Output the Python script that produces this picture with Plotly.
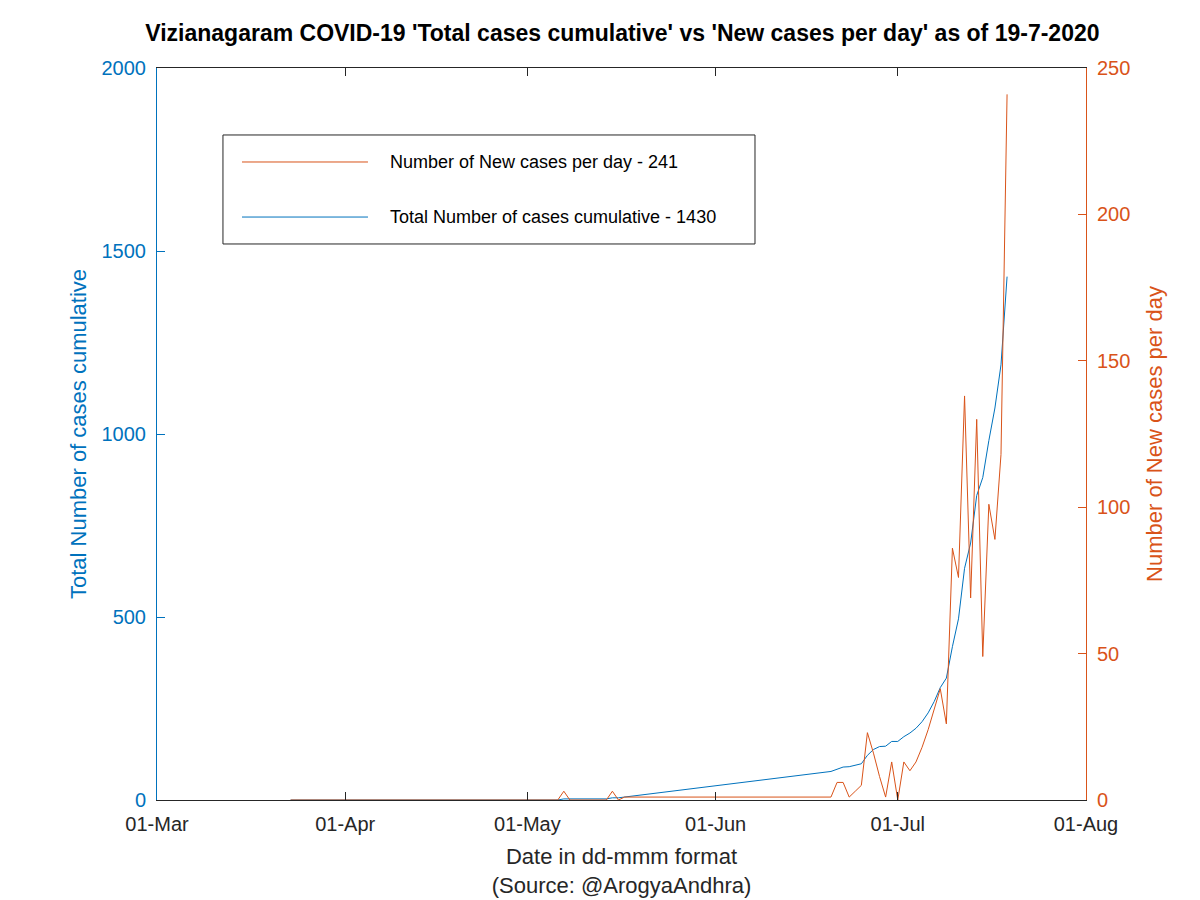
import plotly.graph_objects as go

# ---- data ----
new_dates = ["2020-03-23", "2020-05-06", "2020-05-07", "2020-05-08", "2020-05-14",
             "2020-05-15", "2020-05-16", "2020-05-17", "2020-06-20", "2020-06-21",
             "2020-06-22", "2020-06-23", "2020-06-24", "2020-06-25", "2020-06-26",
             "2020-06-27", "2020-06-28", "2020-06-29", "2020-06-30", "2020-07-01",
             "2020-07-02", "2020-07-03", "2020-07-04", "2020-07-05", "2020-07-06",
             "2020-07-07", "2020-07-08", "2020-07-09", "2020-07-10", "2020-07-11",
             "2020-07-12", "2020-07-13", "2020-07-14", "2020-07-15", "2020-07-16",
             "2020-07-17", "2020-07-18", "2020-07-19"]
new_cases = [0, 0, 3, 0, 0,
             3, 0, 1, 1, 6,
             6, 1, 3, 5, 23,
             16, 8, 1, 13, 0,
             13, 10, 13, 18, 24,
             31, 38, 26, 86, 76,
             138, 69, 130, 49, 101,
             89, 118, 241]

cum_dates = ["2020-03-23", "2020-05-06", "2020-05-07", "2020-05-14", "2020-05-15",
             "2020-05-16", "2020-06-20", "2020-06-21", "2020-06-22", "2020-06-23",
             "2020-06-24", "2020-06-25", "2020-06-26", "2020-06-27", "2020-06-28",
             "2020-06-29", "2020-06-30", "2020-07-01", "2020-07-02", "2020-07-03",
             "2020-07-04", "2020-07-05", "2020-07-06", "2020-07-07", "2020-07-08",
             "2020-07-09", "2020-07-10", "2020-07-11", "2020-07-12", "2020-07-13",
             "2020-07-14", "2020-07-15", "2020-07-16", "2020-07-17", "2020-07-18",
             "2020-07-19"]
cum_cases = [0, 0, 3, 3, 6,
             6, 78, 84, 90, 91,
             94, 99, 122, 138, 146,
             147, 160, 160, 173, 183,
             196, 214, 238, 269, 307,
             333, 419, 495, 633, 702,
             832, 881, 982, 1071, 1189,
             1430]

x_range = ["2020-03-01", "2020-08-01"]
x_ticks = ["2020-03-01", "2020-04-01", "2020-05-01", "2020-06-01", "2020-07-01", "2020-08-01"]
x_tick_text = ["01-Mar", "01-Apr", "01-May", "01-Jun", "01-Jul", "01-Aug"]

title_text = "Vizianagaram COVID-19 'Total cases cumulative' vs 'New cases per day' as of 19-7-2020"
new_label = "Number of New cases per day - 241"
cum_label = "Total Number of cases cumulative - 1430"

BLUE = "#0072BD"
ORANGE = "#D95319"
DARK = "#262626"
FONT = "Liberation Sans, Arial, sans-serif"

fig = go.Figure()
fig.add_trace(go.Scatter(x=cum_dates, y=cum_cases, mode="lines", name=cum_label,
                         line=dict(color=BLUE, width=1), yaxis="y", showlegend=False))
fig.add_trace(go.Scatter(x=new_dates, y=new_cases, mode="lines", name=new_label,
                         line=dict(color=ORANGE, width=1), yaxis="y2", showlegend=False))

# manual legend (MATLAB style box)
lx0, lx1, ly0, ly1 = 0.0710, 0.6437, 0.7596, 0.9085
fig.add_shape(type="rect", xref="paper", yref="paper", x0=lx0, x1=lx1, y0=ly0, y1=ly1,
              line=dict(color=DARK, width=1), fillcolor="white", layer="above")
for yy, col, txt in [(0.8716, ORANGE, new_label), (0.7964, BLUE, cum_label)]:
    fig.add_shape(type="line", xref="paper", yref="paper", x0=0.0915, x1=0.2271,
                  y0=yy, y1=yy, line=dict(color=col, width=1), layer="above")
    fig.add_annotation(xref="paper", yref="paper", x=0.2487, y=yy, text=txt,
                       showarrow=False, xanchor="left", yanchor="middle",
                       font=dict(family=FONT, size=18, color="black"))

fig.update_layout(
    width=1200, height=900,
    margin=dict(l=149, r=122, t=60, b=108),
    paper_bgcolor="white", plot_bgcolor="white",
    font=dict(family=FONT, size=20, color=DARK),
    title=dict(text="<b>" + title_text + "</b>", x=0.512, xanchor="center",
               y=0.972, yanchor="middle", font=dict(family=FONT, size=23, color="black")),
    xaxis=dict(type="date", range=x_range, tickvals=x_ticks, ticktext=x_tick_text,
               ticks="inside", ticklen=8, tickcolor=DARK, showline=True, linecolor=DARK,
               linewidth=1, mirror="ticks", showgrid=False, zeroline=False,
               tickfont=dict(family=FONT, size=20, color=DARK), ticklabelstandoff=6,
               title=dict(text="Date in dd-mmm format<br>(Source: @ArogyaAndhra)",
                          font=dict(family=FONT, size=22, color=DARK), standoff=14)),
    yaxis=dict(range=[0, 2000], tickvals=[0, 500, 1000, 1500, 2000], ticks="inside",
               ticklen=8, tickcolor=BLUE, showline=True, linecolor=BLUE, linewidth=1,
               showgrid=False, zeroline=False,
               tickfont=dict(family=FONT, size=20, color=BLUE), ticklabelstandoff=6,
               title=dict(text="Total Number of cases cumulative",
                          font=dict(family=FONT, size=22, color=BLUE), standoff=8)),
    yaxis2=dict(range=[0, 250], tickvals=[0, 50, 100, 150, 200, 250], overlaying="y",
                side="right", ticks="inside", ticklen=8, tickcolor=ORANGE, showline=True,
                linecolor=ORANGE, linewidth=1, showgrid=False, zeroline=False,
                tickfont=dict(family=FONT, size=20, color=ORANGE), ticklabelstandoff=6,
                title=dict(text="Number of New cases per day",
                           font=dict(family=FONT, size=22, color=ORANGE), standoff=17)),
)

fig.write_html("out.html")
